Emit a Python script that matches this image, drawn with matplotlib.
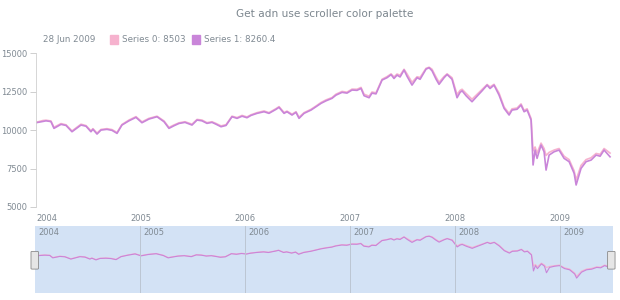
import numpy as np
import matplotlib.pyplot as plt
from matplotlib.patches import FancyBboxPatch

# time in decimal years
t = [2004.000, 2004.067, 2004.096, 2004.143, 2004.172, 2004.239, 2004.287, 2004.344,
     2004.430, 2004.478, 2004.525, 2004.544, 2004.583, 2004.621, 2004.678, 2004.726,
     2004.774, 2004.821, 2004.888, 2004.955, 2005.012, 2005.079, 2005.156, 2005.223,
     2005.270, 2005.318, 2005.366, 2005.423, 2005.490, 2005.538, 2005.585, 2005.633,
     2005.681, 2005.719, 2005.767, 2005.815, 2005.872, 2005.920, 2005.968, 2006.015,
     2006.053, 2006.111, 2006.178, 2006.225, 2006.292, 2006.321, 2006.369, 2006.397,
     2006.445, 2006.483, 2006.512, 2006.560, 2006.627, 2006.674, 2006.722, 2006.770,
     2006.827, 2006.865, 2006.923, 2006.970, 2007.018, 2007.066, 2007.104, 2007.133,
     2007.181, 2007.209, 2007.247, 2007.305, 2007.352, 2007.391, 2007.419, 2007.448,
     2007.477, 2007.515, 2007.543, 2007.591, 2007.639, 2007.668, 2007.725, 2007.754,
     2007.782, 2007.820, 2007.849, 2007.897, 2007.926, 2007.973, 2008.021, 2008.050,
     2008.069, 2008.107, 2008.164, 2008.212, 2008.260, 2008.308, 2008.336, 2008.374,
     2008.422, 2008.470, 2008.518, 2008.546, 2008.594, 2008.632, 2008.661, 2008.690,
     2008.728, 2008.747, 2008.766, 2008.785, 2008.823, 2008.852, 2008.871, 2008.900,
     2008.948, 2008.995, 2009.043, 2009.091, 2009.139, 2009.158, 2009.205, 2009.253,
     2009.301, 2009.349, 2009.387, 2009.425, 2009.482]

series1 = [10475, 10560, 10600, 10550, 10110, 10370, 10300, 9890,
           10325, 10250, 9890, 10050, 9740, 10000, 10045, 9980,
           9785, 10325, 10600, 10825, 10475, 10715, 10865, 10540,
           10110, 10280, 10430, 10500, 10325, 10650, 10600, 10435,
           10500, 10380, 10215, 10300, 10865, 10760, 10900, 10800,
           10950, 11085, 11190, 11085, 11345, 11475, 11085, 11190,
           10975, 11150, 10760, 11085, 11300, 11515, 11735, 11900,
           12060, 12270, 12450, 12400, 12600, 12580, 12705, 12230,
           12100, 12400, 12350, 13250, 13400, 13600, 13350, 13570,
           13450, 13900, 13500, 12920, 13400, 13300, 13960, 14050,
           13850, 13310, 12970, 13400, 13610, 13300, 12100, 12450,
           12550, 12230, 11840, 12200, 12550, 12920, 12700, 12920,
           12270, 11410, 10975, 11300, 11350, 11625, 11190, 11300,
           10650, 7730, 8700, 8160, 9025, 8590, 7400, 8375,
           8590, 8700, 8160, 7945, 7190, 6430, 7510, 7945,
           8050, 8375, 8300, 8700, 8260]

series0 = [10500, 10620, 10640, 10590, 10180, 10420, 10340, 9940,
           10380, 10290, 9950, 10090, 9800, 10040, 10090, 10030,
           9840, 10360, 10650, 10870, 10530, 10760, 10900, 10590,
           10170, 10330, 10470, 10540, 10380, 10690, 10650, 10480,
           10540, 10430, 10270, 10350, 10900, 10810, 10950, 10850,
           10990, 11130, 11240, 11130, 11390, 11520, 11140, 11230,
           11030, 11190, 10830, 11130, 11350, 11560, 11790, 11960,
           12110, 12330, 12510, 12460, 12660, 12650, 12770, 12330,
           12200, 12470, 12420, 13300, 13470, 13650, 13450, 13640,
           13560, 13950, 13650, 13100, 13460, 13420, 14010, 14080,
           13950, 13450, 13100, 13480, 13650, 13400, 12300, 12580,
           12650, 12380, 12000, 12320, 12640, 12960, 12800, 12970,
           12400, 11500, 11080, 11380, 11430, 11700, 11280, 11380,
           10750, 8650, 8900, 8500, 9150, 8800, 8350, 8550,
           8700, 8800, 8300, 8080, 7350, 6750, 7700, 8080,
           8200, 8480, 8420, 8800, 8503]

years = [2004, 2005, 2006, 2007, 2008, 2009]
yticks = [5000, 7500, 10000, 12500, 15000]

pink = "#f6b2ce"
violet = "#c985d9"
grey = "#808a93"

fig = plt.figure(figsize=(6.2, 3.0), dpi=100)

# main chart
ax = fig.add_axes([0.058, 0.31, 0.929, 0.513])
ax.plot(t, series0, color=pink, lw=1.2)
ax.plot(t, series1, color=violet, lw=1.2)
ax.set_xlim(2004.0, 2009.5)
ax.set_ylim(5000, 15000)
ax.set_yticks(yticks)
ax.set_yticklabels([str(v) for v in yticks])
ax.set_xticks(years)
ax.set_xticklabels([str(y) for y in years])
ax.tick_params(axis="y", labelsize=6, colors=grey, length=4, width=0.6, pad=2, color="#c8c8c8")
ax.tick_params(axis="x", labelsize=6, colors=grey, length=0, pad=5)
ax.get_xticklabels()[0].set_ha("left")
for s in ["top", "right", "bottom"]:
    ax.spines[s].set_visible(False)
ax.spines["left"].set_color("#d0d0d0")
ax.spines["left"].set_linewidth(0.6)

fig.text(0.523, 0.953, "Get adn use scroller color palette", ha="center", va="center",
         fontsize=7.6, color="#7c868e")

# legend row
fig.text(0.069, 0.867, "28 Jun 2009", fontsize=6.3, color=grey, va="center")
fig.patches.append(plt.Rectangle((0.177, 0.853), 0.014, 0.029, transform=fig.transFigure,
                                 color=pink, figure=fig))
fig.text(0.197, 0.867, "Series 0: 8503", fontsize=6.3, color=grey, va="center")
fig.patches.append(plt.Rectangle((0.309, 0.853), 0.014, 0.029, transform=fig.transFigure,
                                 color=violet, figure=fig))
fig.text(0.329, 0.867, "Series 1: 8260.4", fontsize=6.3, color=grey, va="center")

# scroller
sc = fig.add_axes([0.056, 0.023, 0.932, 0.223])
sc.set_facecolor("#d3e2f5")
sc.plot(t, series0, color=pink, lw=0.8)
sc.plot(t, series1, color=violet, lw=0.8)
sc.set_xlim(2004.0, 2009.5)
sc.set_ylim(3700, 15870)
sc.set_xticks([])
sc.set_yticks([])
for s in sc.spines.values():
    s.set_visible(False)
for y in years:
    if y > 2004:
        sc.axvline(y, color="#bcc6d2", lw=0.7)
    sc.text(y + 0.035, 0.9, str(y), transform=sc.get_xaxis_transform(), fontsize=6,
            color=grey, va="center", ha="left")

for hx in [0.056, 0.986]:
    fig.patches.append(FancyBboxPatch((hx - 0.004, 0.105), 0.008, 0.055,
                                      boxstyle="round,pad=0.002", transform=fig.transFigure,
                                      facecolor="#e6e6e6", edgecolor="#8a8a8a", lw=0.6,
                                      figure=fig, zorder=5))

fig.savefig("out.png", dpi=100)
